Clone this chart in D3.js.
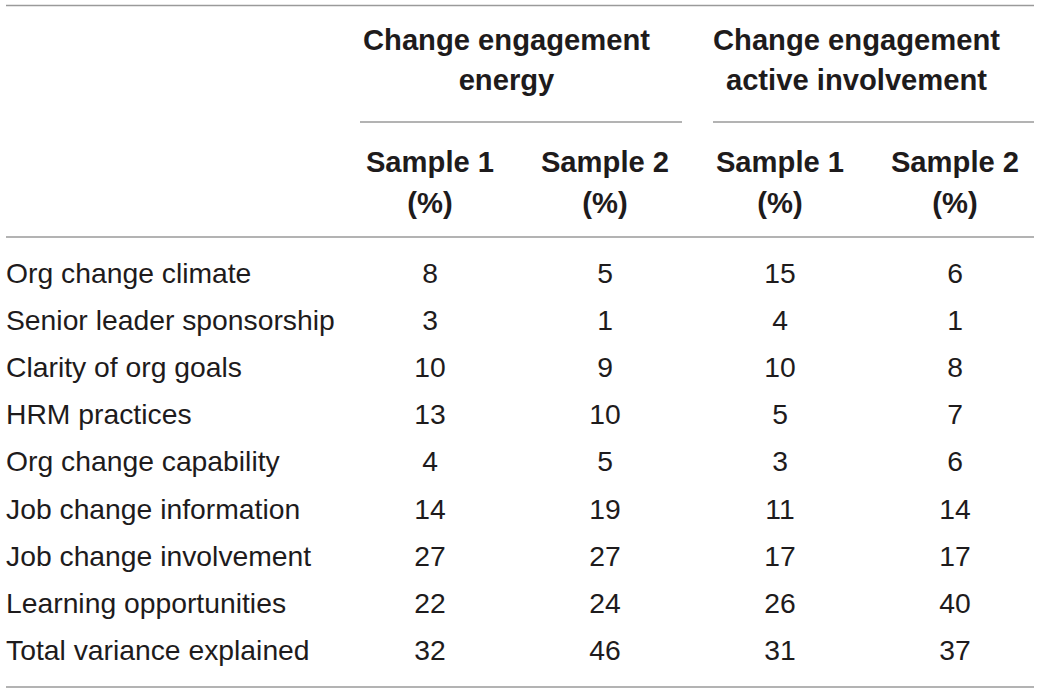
<!DOCTYPE html>
<html>
<head>
<meta charset="utf-8">
<script src="https://cdn.jsdelivr.net/npm/d3@7"></script>
<style>
  html, body { margin: 0; padding: 0; background: #fff; }
  svg { display: block; }
</style>
</head>
<body>
<div class="js-table"></div>
<script>
// table values
const rowLabels = [
  "Org change climate",
  "Senior leader sponsorship",
  "Clarity of org goals",
  "HRM practices",
  "Org change capability",
  "Job change information",
  "Job change involvement",
  "Learning opportunities",
  "Total variance explained"
];
const groupTitles = [
  ["Change engagement", "energy"],
  ["Change engagement", "active involvement"]
];
const sampleTitles = ["Sample 1", "Sample 2", "Sample 1", "Sample 2"];
const energySample1 = [8, 3, 10, 13, 4, 14, 27, 22, 32];
const energySample2 = [5, 1, 9, 10, 5, 19, 27, 24, 46];
const involveSample1 = [15, 4, 10, 5, 3, 11, 17, 26, 31];
const involveSample2 = [6, 1, 8, 7, 6, 14, 17, 40, 37];

const width = 1040
    , height = 693
    , left = 6
    , right = 1034
    ;

const columns = [energySample1, energySample2, involveSample1, involveSample2];
const textColor = "#1e1b1c"
    , ruleColor = "#9a9a9a"
    , font = "'Liberation Sans', Arial, Helvetica, sans-serif"
    , bodySize = 28.3
    , headSize = 29.2
    ;

const svg = d3.select(".js-table")
  .append("svg")
  .attr("width", width)
  .attr("height", height);

// column centers
const x = d3.scalePoint()
  .domain(d3.range(columns.length))
  .range([430, 955]);

// data rows
const y = d3.scaleBand()
  .domain(d3.range(rowLabels.length))
  .range([249, 674]);

function hline(x1, x2, yy) {
  svg.append("line")
    .attr("x1", x1).attr("x2", x2)
    .attr("y1", yy).attr("y2", yy)
    .attr("stroke", ruleColor)
    .attr("stroke-width", 1.5);
}

hline(left, right, 5.5);
hline(360, 682, 122);
hline(713, right, 122);
hline(left, right, 237);
hline(left, right, 687);

// group headers (sit a little left of the column pair's middle)
const groupG = svg.append("g")
  .selectAll("text")
  .data(groupTitles)
  .join("text")
  .attr("x", (d, i) => (x(i * 2) + x(i * 2 + 1)) / 2 - 11)
  .attr("y", 50)
  .attr("text-anchor", "middle")
  .style("font", `bold ${headSize}px ${font}`)
  .attr("fill", textColor);

groupG.selectAll("tspan")
  .data(d => d)
  .join("tspan")
  .attr("x", function() { return d3.select(this.parentNode).attr("x"); })
  .attr("dy", (d, i) => i ? 40 : 0)
  .text(d => d);

// sample headers
const sampleG = svg.append("g")
  .selectAll("text")
  .data(sampleTitles)
  .join("text")
  .attr("x", (d, i) => x(i))
  .attr("y", 172)
  .attr("text-anchor", "middle")
  .style("font", `bold ${headSize}px ${font}`)
  .attr("fill", textColor);

sampleG.selectAll("tspan")
  .data(d => [d, "(%)"])
  .join("tspan")
  .attr("x", function() { return d3.select(this.parentNode).attr("x"); })
  .attr("dy", (d, i) => i ? 41 : 0)
  .text(d => d);

// row labels
svg.append("g")
  .selectAll("text")
  .data(rowLabels)
  .join("text")
  .attr("x", left)
  .attr("y", (d, i) => y(i) + y.bandwidth() / 2)
  .attr("dy", "0.35em")
  .style("font", `${bodySize}px ${font}`)
  .attr("fill", textColor)
  .text(d => d);

// values
svg.append("g")
  .selectAll("g")
  .data(columns)
  .join("g")
  .selectAll("text")
  .data((col, ci) => col.map((v, ri) => ({v, ci, ri})))
  .join("text")
  .attr("x", d => x(d.ci))
  .attr("y", d => y(d.ri) + y.bandwidth() / 2)
  .attr("dy", "0.35em")
  .attr("text-anchor", "middle")
  .style("font", `${bodySize}px ${font}`)
  .attr("fill", textColor)
  .text(d => d.v);
</script>
</body>
</html>
